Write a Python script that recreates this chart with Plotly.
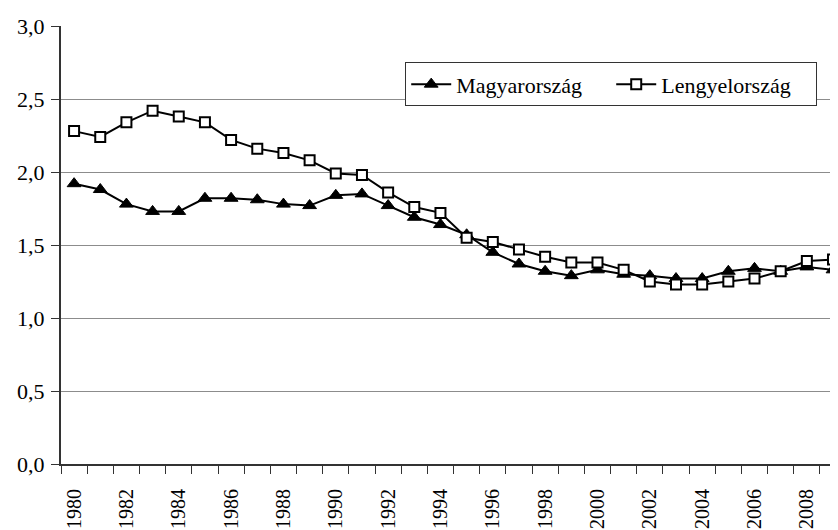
import plotly.graph_objects as go

years = list(range(1980, 2010))
hungary = [1.92, 1.88, 1.78, 1.73, 1.73, 1.82, 1.82, 1.81, 1.78, 1.77,
           1.84, 1.85, 1.77, 1.69, 1.64, 1.57, 1.45, 1.37, 1.32, 1.29,
           1.33, 1.30, 1.29, 1.27, 1.27, 1.32, 1.34, 1.32, 1.35, 1.33]
poland = [2.28, 2.24, 2.34, 2.42, 2.38, 2.34, 2.22, 2.16, 2.13, 2.08,
          1.99, 1.98, 1.86, 1.76, 1.72, 1.55, 1.52, 1.47, 1.42, 1.38,
          1.38, 1.33, 1.25, 1.23, 1.23, 1.25, 1.27, 1.32, 1.39, 1.40]
label_years = years[::2]
y_ticks = [0, 0.5, 1.0, 1.5, 2.0, 2.5, 3.0]

FONT = "Liberation Serif"

fig = go.Figure()
fig.add_trace(go.Scatter(
    x=years, y=hungary, name="Magyarország", mode="lines+markers",
    line=dict(color="black", width=2),
    marker=dict(symbol="triangle-up", size=12, color="black",
                line=dict(color="black", width=1)),
))
fig.add_trace(go.Scatter(
    x=years, y=poland, name="Lengyelország", mode="lines+markers",
    line=dict(color="black", width=2),
    marker=dict(symbol="square", size=10, color="white",
                line=dict(color="black", width=2)),
))

fig.update_layout(
    width=830, height=522,
    margin=dict(l=53, r=0, t=17.5, b=65.7, autoexpand=False),
    paper_bgcolor="white", plot_bgcolor="white",
    separators=", ",
    font=dict(family=FONT, size=22, color="black"),
    showlegend=True,
    legend=dict(
        orientation="h", x=0.443, y=0.917, xanchor="left", yanchor="top",
        bgcolor="white", bordercolor="#333333", borderwidth=1,
        font=dict(family=FONT, size=22, color="black"),
        itemwidth=40, tracegroupgap=0, entrywidth=150,
    ),
    xaxis=dict(
        range=[years[0] - 0.5, years[0] - 0.5 + 777 / 26.17],
        tickmode="array", tickvals=label_years,
        ticktext=[str(y) for y in label_years],
        tickangle=-90, ticks="outside", ticklen=8,
        tickcolor="rgba(0,0,0,0)",
        ticklabelstandoff=7, automargin=False,
        showgrid=False, zeroline=False,
        showline=True, linecolor="#333333", linewidth=2,
        minor=dict(ticks="outside", ticklen=8, tickcolor="#333333",
                   tickwidth=1, tickmode="array",
                   tickvals=[y - 0.5 for y in years] + [years[-1] + 0.5],
                   showgrid=False),
        tickfont=dict(family=FONT, size=20, color="black"),
    ),
    yaxis=dict(
        range=[0, 3], tickmode="array", tickvals=y_ticks,
        tickformat=".1f", ticks="outside", ticklen=8,
        tickcolor="#333333", tickwidth=1,
        ticklabelstandoff=2, automargin=False,
        showgrid=True, gridcolor="#8c8c8c", gridwidth=1,
        zeroline=False, showline=True, linecolor="#333333", linewidth=2,
        tickfont=dict(family=FONT, size=22, color="black"),
    ),
)

fig.write_html("out.html")
